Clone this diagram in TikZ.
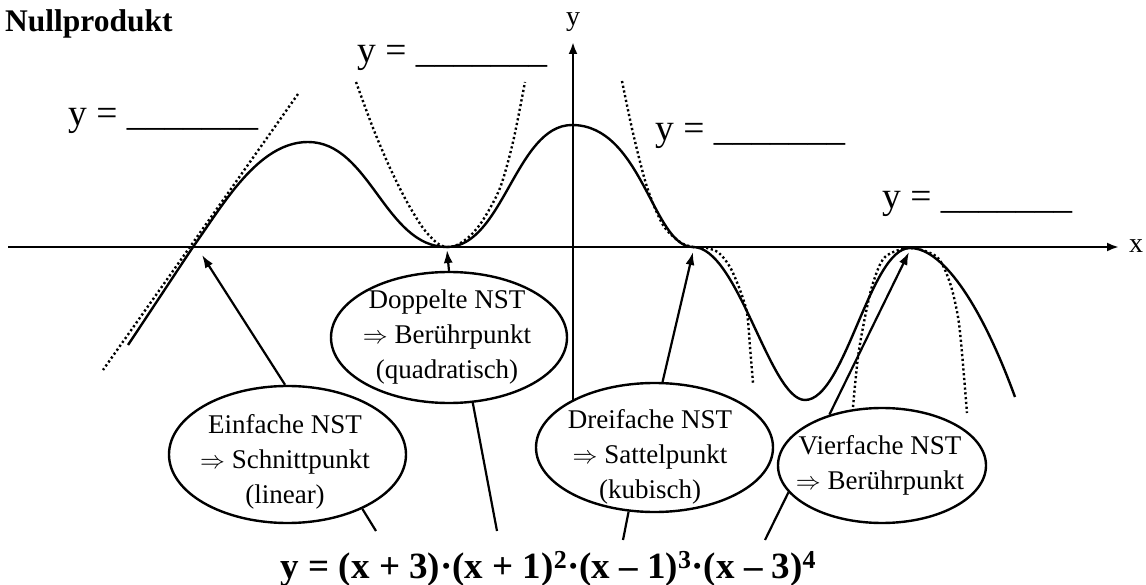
\documentclass[tikz,border=0pt]{standalone}
\usepackage{fontspec}
\setmainfont{Liberation Serif}
\usetikzlibrary{arrows.meta,shapes.geometric}
\begin{document}
\begin{tikzpicture}[x=1pt,y=-1pt,
  curve/.style={line width=2.4pt, line join=round},
  dotcurve/.style={line width=2.4pt, dash pattern=on 2.2pt off 2.6pt},
  axis/.style={line width=2.4pt, -{Latex[length=12pt,width=9pt]}},
  pointer/.style={line width=2.2pt, -{Latex[length=13pt,width=9pt]}},
  link/.style={line width=2.2pt},
  ell/.style={ellipse, draw, line width=2.4pt, fill=white, inner sep=0pt},
  etext/.style={align=center, font=\fontsize{27}{35}\selectfont, inner sep=0pt},
  blank/.style={font=\fontsize{37.5}{40}\selectfont, inner sep=0pt, anchor=base west},
]
\useasboundingbox (0,0) rectangle (1146,585);

% title
\node[anchor=base west, inner sep=0pt, font=\bfseries\fontsize{31.5}{34}\selectfont] (title) at (5,32) {Nullprodukt};

% blanks
\node[blank] (b1) at (68,126) {y = \_\_\_\_\_\_\_};
\node[blank] (b2) at (357,63) {y = \_\_\_\_\_\_\_};
\node[blank] (b3) at (655,141) {y = \_\_\_\_\_\_\_};
\node[blank] (b4) at (882,209) {y = \_\_\_\_\_\_\_};

% dotted approximations
\draw[dotcurve] (298,94) -- (103,370);
\draw[dotcurve] plot[smooth, tension=0.5] coordinates {(356,82) (373,128) (390,168) (407,202) (423,228) (437,243) (447,247) (457,245) (470,236) (483,220) (500,188) (513,142) (525,82)};
\draw[dotcurve] plot[smooth, tension=0.5] coordinates {(622,81) (633,133) (647,187) (663,225) (680,242) (693,247) (707,248) (719,253) (730,267) (740,290) (747,313) (750,347) (753,383)};
\draw[dotcurve] plot[smooth, tension=0.5] coordinates {(853,407) (858,357) (865,317) (873,283) (885,257) (910,248) (937,257) (950,283) (958,317) (962,353) (967,413)};

% graph
\draw[curve] (128,345) .. controls (150,312) and (171,280) .. (193,247)
  .. controls (223,205) and (258,142) .. (308,142)
  .. controls (370,142) and (385,247) .. (447,247)
  .. controls (503,247) and (516,125) .. (572,125)
  .. controls (642,125) and (653,247) .. (693,247)
  .. controls (738,247) and (770,400) .. (805,400)
  .. controls (845,400) and (870,248) .. (910,248)
  .. controls (945,248) and (984,312) .. (1015,397);

% axes
\coordinate (xs) at (8,247);
\coordinate (xe) at (1119,247);
\coordinate (ys) at (573,440);
\coordinate (ye) at (573,42);
\draw[axis] (xs) -- (xe);
\draw[axis] (ys) -- (ye);
\node[font=\fontsize{28}{30}\selectfont, inner sep=0pt, anchor=base west] (xlab) at (1129,253) {x};
\node[font=\fontsize{28}{30}\selectfont, inner sep=0pt, anchor=base] (ylab) at (573,26) {y};

% ellipses
\node[ell, minimum width=237pt, minimum height=137pt] (ein) at (287.5,454.5) {};
\node[ell, minimum width=236pt, minimum height=131pt] (dop) at (449,337.5) {};
\node[ell, minimum width=237pt, minimum height=129pt] (drei) at (654.5,447.5) {};
\node[ell, minimum width=208pt, minimum height=115pt] (vier) at (882,465.5) {};

\node[etext] (eint) at (285,461.5) {Einfache NST\\$\Rightarrow$ Schnittpunkt\\(linear)};
\node[etext] (dopt) at (447,337.5) {Doppelte NST\\$\Rightarrow$ Berührpunkt\\(quadratisch)};
\node[etext] (dreit) at (650,457) {Dreifache NST\\$\Rightarrow$ Sattelpunkt\\(kubisch)};
\node[etext] (viert) at (880,465.5) {Vierfache NST\\$\Rightarrow$ Berührpunkt};

% roots
\coordinate (r1) at (202,255);
\coordinate (r2) at (447,250);
\coordinate (r3) at (693,252);
\coordinate (r4) at (909,252);
\draw[pointer] (ein.92) -- (r1);
\draw[pointer] (dop.north) -- (r2);
\draw[pointer] (drei.83) -- (r3);
\draw[pointer] (vier.136) -- (r4);

% formula
\node[anchor=base, inner sep=0pt, font=\bfseries\fontsize{37}{40}\selectfont] (formula) at (548.5,578)
  {y = (x + 3)·(x + 1)\textsuperscript{2}·(x – 1)\textsuperscript{3}·(x – 3)\textsuperscript{4}};
\coordinate (f1) at (376,531);
\coordinate (f2) at (497,531);
\coordinate (f3) at (623,540);
\coordinate (f4) at (765,540);
\draw[link] (ein.-36) -- (f1);
\draw[link] (dop.-70) -- (f2);
\draw[link] (drei.-112) -- (f3);
\draw[link] (vier.196) -- (f4);
\end{tikzpicture}
\end{document}
